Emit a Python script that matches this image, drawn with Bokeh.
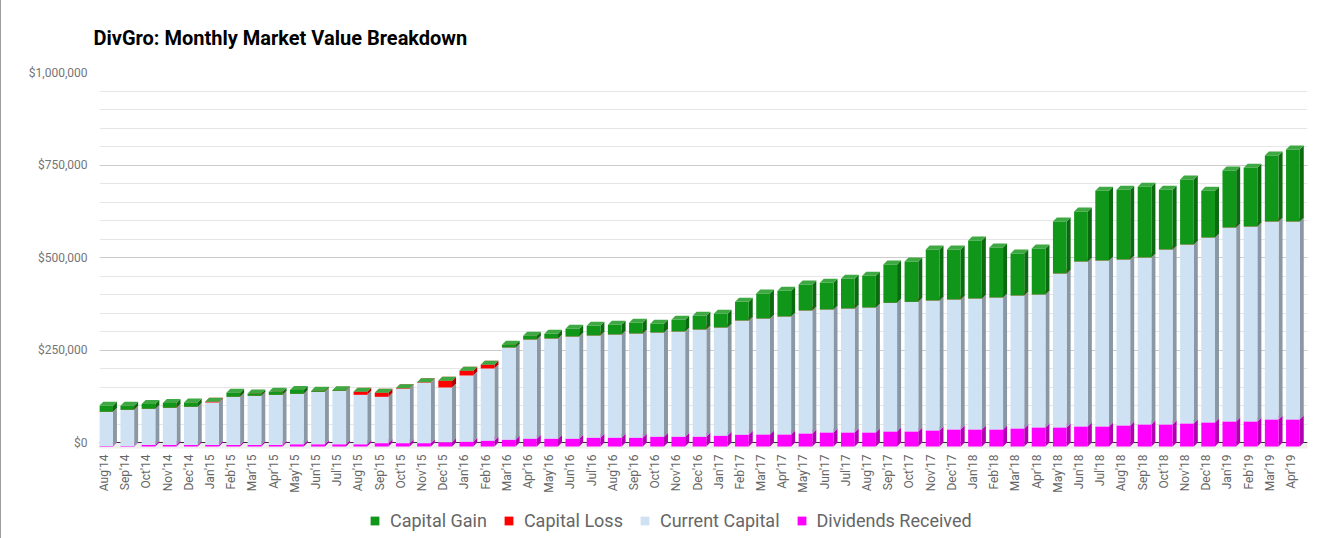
import numpy as np
from bokeh.plotting import figure
from bokeh.models import Range1d, FixedTicker, NumeralTickFormatter, Legend, LegendItem
from bokeh.core.properties import value
from bokeh.embed import file_html
from bokeh.resources import INLINE

# ---------------- data (values in $ thousands) ----------------
months = ["Aug'14", "Sep'14", "Oct'14", "Nov'14", "Dec'14",
          "Jan'15", "Feb'15", "Mar'15", "Apr'15", "May'15", "Jun'15", "Jul'15",
          "Aug'15", "Sep'15", "Oct'15", "Nov'15", "Dec'15",
          "Jan'16", "Feb'16", "Mar'16", "Apr'16", "May'16", "Jun'16", "Jul'16",
          "Aug'16", "Sep'16", "Oct'16", "Nov'16", "Dec'16",
          "Jan'17", "Feb'17", "Mar'17", "Apr'17", "May'17", "Jun'17", "Jul'17",
          "Aug'17", "Sep'17", "Oct'17", "Nov'17", "Dec'17",
          "Jan'18", "Feb'18", "Mar'18", "Apr'18", "May'18", "Jun'18", "Jul'18",
          "Aug'18", "Sep'18", "Oct'18", "Nov'18", "Dec'18",
          "Jan'19", "Feb'19", "Mar'19", "Apr'19"]

dividends_received = [1.5, 1.5, 4, 4, 4,
                      4, 4, 4, 4, 6, 6, 6,
                      6, 9, 9, 9, 11.5,
                      12.6, 15.3, 18, 20.9, 20.9, 20.9, 23.6,
                      23.6, 23.6, 26.3, 26.3, 26.3,
                      29, 32, 32.4, 32.4, 35.1, 37.8, 37.8,
                      37.8, 40.5, 40.5, 43.2, 45.9,
                      45.9, 45.9, 48.6, 51.4, 51.4, 54.1, 54.1,
                      56.8, 59.5, 59.5, 62.2, 64.9,
                      67.6, 67.6, 73, 73]

current_capital = [92.5, 97.5, 98, 100.6, 103.3,
                   115, 130.3, 133, 135.7, 136.4, 141.8, 144.5,
                   133.7, 125.3, 146.9, 163.2, 148,
                   179.3, 195.5, 249.6, 268.3, 271, 276.4, 276.4,
                   279.1, 281.8, 281.8, 284.5, 289.9,
                   292.6, 308.5, 313.5, 319, 332.5, 332.5, 335.2,
                   337.9, 347.9, 350.5, 351.4, 351.4,
                   354.1, 356.8, 359.5, 359.4, 416.2, 445.9, 448.6,
                   448.6, 451.3, 472.9, 483.7, 500,
                   524.3, 527, 535.1, 535.1]

capital_loss = [0, 0, 0, 0, 0,
                1.8, 0, 0, 0, 0, 0, 0,
                8.1, 10.7, 1.5, 1.2, 18.1,
                12.7, 10, 0, 0, 0, 0, 0,
                0, 0, 0, 0, 0,
                0, 0, 0, 0, 0, 0, 0,
                0, 0, 0, 0, 0,
                0, 0, 0, 0, 0, 0, 0,
                0, 0, 0, 0, 0,
                0, 0, 0, 0]

capital_gain = [16, 11, 12.6, 12.7, 11.7,
                0, 10.7, 6, 8.1, 10.6, 2.7, 1.8,
                0, 0, 0, 0, 0,
                0, 0, 7.3, 10, 12.7, 20.8, 26.2,
                26.2, 28.9, 23.5, 31.6, 37,
                37, 50.5, 67.6, 69.4, 70.2, 72.1, 80.2,
                85.6, 103.5, 109, 137.8, 135.1,
                156.8, 135.1, 113.5, 124.3, 140.5, 135.1, 188.4,
                188.4, 191.1, 161.4, 175.7, 126.2,
                154, 158.6, 178.4, 194.6]

y_ticks = [0, 250000, 500000, 750000, 1000000]

# ---------------- geometry / style ----------------
W, H = 1327, 538
B_LEFT, B_RIGHT, B_TOP, B_BOTTOM = 98, 21, 72, 0
FRAME_W = W - B_LEFT - B_RIGHT
FRAME_H = H - B_TOP - B_BOTTOM
PX_PER_K = 0.37                       # vertical scale (pixels per $1000)
ZERO_FROM_BOTTOM = 96                 # pixels from frame bottom to the $0 line
n = len(months)
px_per_y = PX_PER_K / 1000.0
Y0 = -ZERO_FROM_BOTTOM / px_per_y
px_per_x = FRAME_W / n
DEPTH_PX = 4.0
DXU = DEPTH_PX / px_per_x
DYV = DEPTH_PX / px_per_y
HALF = 6.85 / px_per_x
x0 = DXU - 0.5

p = figure(width=W, height=H, output_backend="svg", toolbar_location=None,
           x_range=Range1d(x0, x0 + n), y_range=Range1d(Y0, Y0 + FRAME_H / px_per_y),
           min_border_left=B_LEFT, min_border_right=B_RIGHT,
           min_border_top=B_TOP, min_border_bottom=B_BOTTOM)
p.styles = {"border-left": "1px solid #9e9e9e"}
p.outline_line_color = None
p.background_fill_color = "white"
p.border_fill_color = "white"

p.title.text = "DivGro: Monthly Market Value Breakdown"
p.title.text_font = "Roboto"
p.title.text_font_style = "bold"
p.title.text_font_size = "20px"
p.title.text_color = "#000000"
p.title.align = "left"
p.title.offset = -6
p.title.standoff = 45

# y axis
yax = p.yaxis[0]
yax.ticker = FixedTicker(ticks=y_ticks, minor_ticks=list(range(50000, 1000000, 50000)))
yax.formatter = NumeralTickFormatter(format="$0,0")
yax.axis_line_color = None
yax.major_tick_line_color = None
yax.minor_tick_line_color = None
yax.major_tick_in = 0
yax.major_tick_out = 0
yax.minor_tick_in = 0
yax.minor_tick_out = 0
yax.major_label_standoff = 12
yax.major_label_text_font = "Roboto"
yax.major_label_text_font_style = "normal"
yax.major_label_text_font_size = "12px"
yax.major_label_text_color = "#757575"

p.ygrid.grid_line_color = "#cccccc"
p.ygrid.minor_grid_line_color = "#e6e6e6"
p.xgrid.grid_line_color = None
p.xaxis.visible = False

idx = np.arange(n)

# floor and baseline
xa, xb = x0 - 1, x0 + n + 1
p.patch([xa, xb, xb - DXU * 1.5, xa - DXU * 1.5], [0, 0, -DYV * 1.5, -DYV * 1.5],
        fill_color="#eeeeee", line_color=None)
p.segment(x0=[x0], y0=[0], x1=[x0 + n], y1=[0], line_color="#333333", line_width=1)

series = [
    ("Dividends Received", dividends_received, ("#ff00ff", "#b000b0", "#ff55ff")),
    ("Current Capital", current_capital, ("#cfe2f3", "#8a97a4", "#e0ebf6")),
    ("Capital Loss", capital_loss, ("#ff0000", "#b00000", "#ff5050")),
    ("Capital Gain", capital_gain, ("#109618", "#0b6a10", "#3ea843")),
]

bottom = np.zeros(n)
renderers = {}
for name, vals, (c_front, c_side, c_top) in series:
    v = np.array(vals, dtype=float) * 1000.0
    top = bottom + v
    side_xs = [[i + HALF, i + HALF, i + HALF + DXU, i + HALF + DXU] for i in idx]
    side_ys = [[b - DYV, t - DYV, t, b] for b, t in zip(bottom, top)]
    p.patches(side_xs, side_ys, fill_color=c_side, line_color=None)
    top_xs = [[i - HALF, i + HALF, i + HALF + DXU, i - HALF + DXU] for i in idx]
    top_ys = [[t - DYV, t - DYV, t, t] for t in top]
    p.patches(top_xs, top_ys, fill_color=c_top, line_color=None)
    r = p.quad(left=idx - HALF, right=idx + HALF, bottom=bottom - DYV, top=top - DYV,
               fill_color=c_front, line_color=None)
    renderers[name] = r
    bottom = top

# category labels (rotated, below the floor)
p.text(x=idx, y=np.zeros(n), text=months, angle=np.pi / 2, x_offset=-2, y_offset=12,
       text_align="right", text_baseline="middle",
       text_font=value("Roboto"), text_font_size=value("12px"), text_color="#666666")

legend = Legend(items=[LegendItem(label=nm, renderers=[renderers[nm]])
                       for nm in ["Capital Gain", "Capital Loss", "Current Capital", "Dividends Received"]],
                orientation="horizontal", location=(270, 7))
legend.glyph_width = 11
legend.glyph_height = 11
legend.label_standoff = 10
legend.spacing = 16
legend.padding = 0
legend.margin = 0
legend.border_line_color = None
legend.background_fill_alpha = 0
legend.label_text_font = "Roboto"
legend.label_text_font_size = "18px"
legend.label_text_color = "#666666"
p.add_layout(legend)

open("out.html", "w").write(file_html(p, INLINE))
